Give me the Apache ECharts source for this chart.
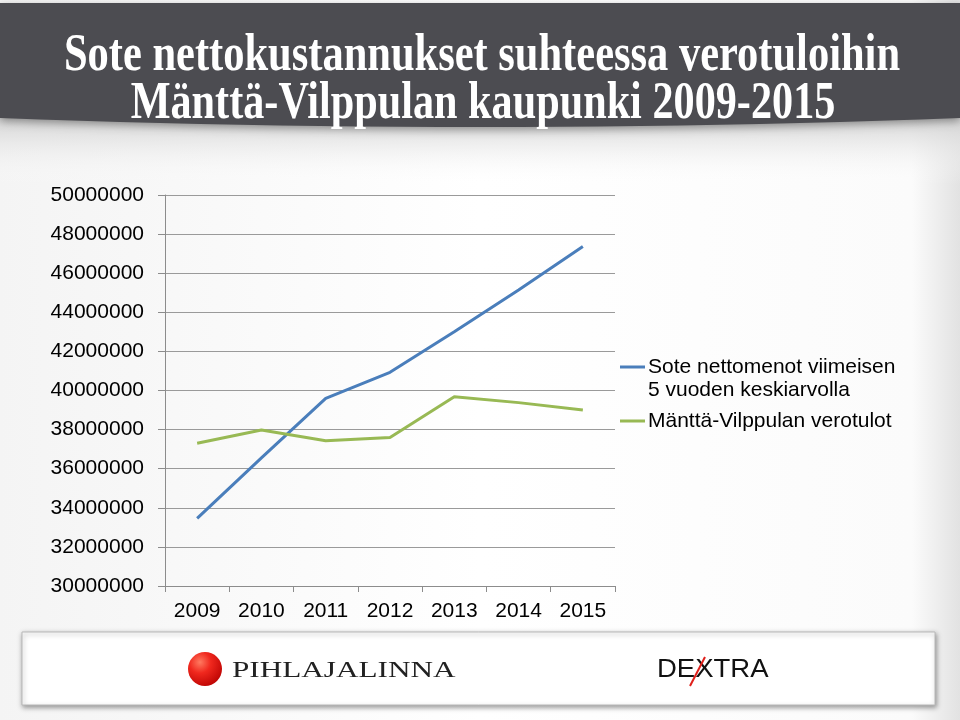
<!DOCTYPE html>
<html>
<head>
<meta charset="utf-8">
<style>
html,body{margin:0;padding:0;background:#fff;}
#chart{width:960px;height:720px;}
</style>
<script src="https://cdn.jsdelivr.net/npm/echarts@6/dist/echarts.min.js"></script>
</head>
<body>
<div id="chart"></div>
<script>
var years = ['2009','2010','2011','2012','2013','2014','2015'];
var soteNettomenot = [33460000, 36550000, 39600000, 40930000, 43000000, 45140000, 47360000];
var verotulot = [37300000, 37980000, 37430000, 37600000, 39680000, 39380000, 39000000];
var seriesNames = ['Sote nettomenot viimeisen\n5 vuoden keskiarvolla', 'Mänttä-Vilppulan verotulot'];
var titleLines = ['Sote nettokustannukset suhteessa verotuloihin', 'Mänttä-Vilppulan kaupunki 2009-2015'];

var chart = echarts.init(document.getElementById('chart'));
var blue = '#4a7ebb', green = '#98b954';
var sans = '"Liberation Sans", Arial, sans-serif';
var serif = '"Liberation Serif", "Times New Roman", serif';

// decorative band outline (slightly curved bottom edge)
var bandPts = [[0, 3], [960, 3]];
for (var i = 0; i <= 24; i++) {
  var t = i / 24;
  bandPts.push([960 * (1 - t), 118 + 36 * t * (1 - t)]);
}

chart.setOption({
  backgroundColor: {
    type: 'linear', x: 0, y: 0, x2: 1, y2: 0,
    colorStops: [{offset: 0, color: '#f4f4f4'}, {offset: 0.5, color: '#ffffff'}, {offset: 0.95, color: '#fbfbfb'}, {offset: 1, color: '#e2e2e2'}]
  },
  animation: false,
  grid: {left: 165, right: 345, top: 195, bottom: 134},
  xAxis: {
    type: 'category', data: years, boundaryGap: true,
    axisLine: {lineStyle: {color: '#8c8c8c', width: 1}},
    axisTick: {show: true, length: 6, lineStyle: {color: '#8c8c8c'}},
    axisLabel: {color: '#000', fontSize: 21, fontFamily: sans, margin: 15}
  },
  yAxis: {
    type: 'value', min: 30000000, max: 50000000, interval: 2000000,
    axisLine: {show: true, lineStyle: {color: '#8c8c8c', width: 1}},
    axisTick: {show: true, length: 7, lineStyle: {color: '#8c8c8c'}},
    splitLine: {lineStyle: {color: '#9a9a9a', width: 1}},
    axisLabel: {color: '#000', fontSize: 21, fontFamily: sans, margin: 21,
      formatter: function (v) { return String(v); }}
  },
  series: [
    {name: seriesNames[0], type: 'line', data: soteNettomenot, symbol: 'none', lineStyle: {color: blue, width: 3}, itemStyle: {color: blue}},
    {name: seriesNames[1], type: 'line', data: verotulot, symbol: 'none', lineStyle: {color: green, width: 3}, itemStyle: {color: green}}
  ],
  graphic: [
    {type: 'rect', shape: {x: 0, y: 115, width: 960, height: 70}, z: -10,
     style: {fill: {type: 'linear', x: 0, y: 0, x2: 0, y2: 1, colorStops: [{offset: 0, color: '#cfcfcf'}, {offset: 1, color: 'rgba(255,255,255,0)'}]}}},
    {type: 'polygon', z: 1,
     shape: {points: bandPts},
     style: {fill: '#4c4c51', shadowBlur: 8, shadowColor: 'rgba(0,0,0,0.35)', shadowOffsetY: 3}},
    {type: 'text', x: 482, y: 57, scaleX: 0.817, z: 2,
     style: {text: titleLines[0], fill: '#fff', font: 'bold 52px ' + serif, align: 'center', verticalAlign: 'middle'}},
    {type: 'text', x: 483, y: 105, scaleX: 0.812, z: 2,
     style: {text: titleLines[1], fill: '#fff', font: 'bold 52px ' + serif, align: 'center', verticalAlign: 'middle'}},
    {type: 'line', shape: {x1: 620, y1: 367, x2: 645, y2: 367}, style: {stroke: blue, lineWidth: 3}},
    {type: 'text', x: 648, y: 367, style: {text: 'Sote nettomenot viimeisen', fill: '#000', font: '21px ' + sans, verticalAlign: 'middle'}},
    {type: 'text', x: 648, y: 390, style: {text: '5 vuoden keskiarvolla', fill: '#000', font: '21px ' + sans, verticalAlign: 'middle'}},
    {type: 'line', shape: {x1: 620, y1: 421, x2: 645, y2: 421}, style: {stroke: green, lineWidth: 3}},
    {type: 'text', x: 648, y: 421, style: {text: seriesNames[1], fill: '#000', font: '21px ' + sans, verticalAlign: 'middle'}},
    {type: 'rect', shape: {x: 22, y: 632, width: 913, height: 73},
     style: {fill: '#fff', stroke: '#b8b8b8', lineWidth: 1, shadowBlur: 5, shadowColor: 'rgba(0,0,0,0.4)', shadowOffsetX: 1, shadowOffsetY: 2}},
    {type: 'circle', shape: {cx: 205, cy: 669, r: 17},
     style: {fill: {type: 'radial', x: 0.35, y: 0.3, r: 0.8, colorStops: [{offset: 0, color: '#ff7a60'}, {offset: 0.4, color: '#f0281e'}, {offset: 1, color: '#b80000'}]}}},
    {type: 'text', x: 232, y: 671, scaleX: 1.3,
     style: {text: 'PIHLAJALINNA', fill: '#222', font: '24px ' + serif, verticalAlign: 'middle'}},
    {type: 'text', x: 657, y: 670, scaleX: 1.1,
     style: {text: 'DEXTRA', fill: '#111', font: '25px ' + sans, verticalAlign: 'middle'}},
    {type: 'line', shape: {x1: 690, y1: 686, x2: 705, y2: 657}, style: {stroke: '#e0201b', lineWidth: 2}}
  ]
});
</script>
</body>
</html>
